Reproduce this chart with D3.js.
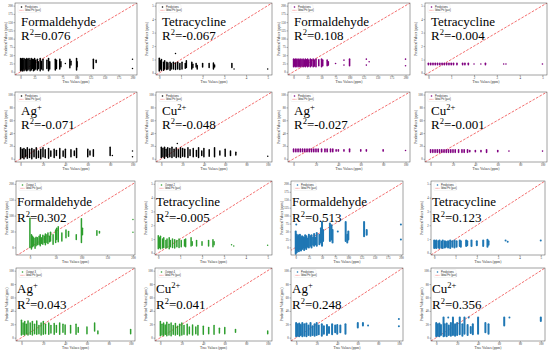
<!DOCTYPE html>
<html>
<head>
<meta charset="utf-8">
<script src="https://cdn.jsdelivr.net/npm/d3@7"></script>
<style>
  body { margin: 0; background: #fff; }
  svg { display: block; }
  .tick text { font-family: "Liberation Serif", serif; }
</style>
</head>
<body>
<div id="chart"></div>
<script>
// tick sets
const formTicks = [0, 25, 50, 75, 100, 125, 150, 175, 200];
const formTicks50 = [0, 50, 100, 150, 200];
const tetraTicks = [0, 1, 2, 3, 4, 5];
const ionTicks = [0, 20, 40, 60, 80, 100];

// analyte names, [base, superscript]
const analytes = [["Formaldehyde", ""], ["Tetracycline", ""], ["Ag", "+"], ["Cu", "2+"]];

// R² values per model group (order: formaldehyde, tetracycline, Ag+, Cu2+)
const r2Black = ["0.076", "-0.067", "-0.071", "-0.048"];
const r2Purple = ["0.108", "-0.004", "-0.027", "-0.001"];
const r2Green = ["0.302", "-0.005", "0.043", "0.041"];
const r2Blue = ["0.513", "0.123", "0.248", "0.356"];

const greenLegend = ["Output 1", "Output 2", "Output 3", "Output 4"];

// point columns: [true value, lowest prediction, highest prediction]
const formBlack = [[0,3,40],[1.5,5,38],[3,2,40],[4.5,8,35],[6,3,40],[8,5,38],[9.5,10,36],[11,3,40],[13,5,38],[15,8,40],[17,3,35],[19,5,40],[21,10,38],[23,3,36],[25,5,40],[27,8,35],[30,5,38],[32,10,30],[35,3,40],[37,8,32],[40,5,38],[47,10,35],[50,3,40],[52,8,30],[62,5,38],[64,10,35],[70,8,38],[72,15,30],[80,25,25],[88,12,38],[90,20,32],[100,5,40],[101,15,30],[130,10,38],[135,28,35],[200,10,10],[200,38,38]];
const tetraBlack = [[0,0.15,1.1],[0.05,0.3,0.9],[0.1,0.2,1.0],[0.2,0.2,0.8],[0.25,0.3,0.9],[0.35,0.25,0.8],[0.4,0.3,0.75],[0.5,0.2,0.8],[0.55,0.3,0.7],[0.65,0.3,0.8],[0.75,0.25,0.75],[0.75,1.45,1.45],[0.85,0.3,0.8],[0.95,0.25,0.7],[1.05,0.3,0.8],[1.2,0.35,0.7],[1.25,0.4,0.9],[1.5,0.3,0.8],[1.55,0.4,0.65],[1.7,0.45,0.7],[1.75,0.3,0.55],[2.0,0.45,0.7],[2.3,0.4,0.7],[2.5,0.3,0.75],[2.55,0.45,0.6],[3.35,0.4,0.7],[3.45,0.3,0.3],[5.0,0.3,0.3]];
const agBlack = [[0,0,17],[1.5,2,15],[3,0,16],[4.5,3,14],[6,1,17],[8,2,15],[10,0,16],[12,3,14],[14,1,17],[16,2,12],[18,0,15],[20,3,17],[22,2,14],[25,1,16],[27,4,12],[30,2,15],[32,5,13],[35,1,16],[38,4,12],[40,2,15],[45,3,14],[48,5,12],[50,2,16],[60,3,15],[62,6,12],[65,4,14],[80,5,18],[82,5,5],[100,3,3],[100,12,12]];
const cuBlack = [[0,2,18],[1.5,3,16],[3,1,18],[4.5,4,15],[6,2,17],[8,3,16],[10,2,18],[12,4,15],[14,2,17],[15,24,24],[16,3,14],[18,2,17],[20,4,16],[22,3,15],[25,2,17],[27,5,14],[30,3,16],[33,4,13],[35,2,17],[38,5,12],[40,3,16],[45,4,14],[50,3,17],[55,6,12],[60,4,15],[65,5,12],[70,6,10],[100,4,4]];
const formPurple = [[0,15,38],[1.5,18,36],[3,15,38],[4.5,17,35],[6,15,38],[8,18,36],[9.5,15,38],[11,17,35],[13,15,38],[15,18,36],[17,15,38],[19,17,35],[21,15,38],[23,18,36],[25,15,38],[27,17,35],[30,15,38],[32,18,36],[35,15,38],[37,17,35],[40,15,38],[45,18,36],[50,15,38],[52,18,35],[60,18,35],[62,20,30],[75,25,25],[90,20,20],[90,35,35],[100,18,38],[130,20,20],[130,38,38],[135,30,30],[200,18,18],[200,38,38]];
const tetraPurple = [[0,0.62,0.72],[0.1,0.62,0.72],[0.2,0.62,0.72],[0.3,0.62,0.72],[0.4,0.62,0.72],[0.5,0.62,0.72],[0.6,0.62,0.72],[0.7,0.62,0.72],[0.8,0.62,0.72],[0.9,0.62,0.72],[1.0,0.62,0.72],[1.1,0.62,0.72],[1.25,0.62,0.72],[1.5,0.62,0.72],[1.6,0.62,0.72],[1.75,0.62,0.72],[2.0,0.67,0.67],[2.3,0.67,0.67],[2.5,0.62,0.72],[3.3,0.67,0.67],[3.4,0.67,0.67],[5.0,0.67,0.67]];
const agPurple = [[0,11,15],[2,11,15],[4,11,15],[6,11,15],[8,11,15],[10,11,15],[12,11,15],[14,11,15],[16,11,15],[18,11,15],[20,11,15],[22,11,15],[25,11,15],[28,11,15],[30,11,15],[33,11,15],[35,11,15],[38,12,14],[40,12,14],[45,12,14],[50,11,15],[60,12,14],[65,12,14],[80,12,14],[100,13,13]];
const cuPurple = [[0,10,14],[2,10,14],[4,10,14],[6,10,14],[8,10,14],[10,10,14],[12,10,14],[14,10,14],[16,10,14],[18,10,14],[20,10,14],[22,10,14],[25,10,14],[28,10,14],[30,10,14],[33,10,14],[35,11,13],[40,11,13],[45,11,13],[50,10,14],[60,11,13],[70,12,12],[100,12,12]];
const formGreen = [[0,0,92],[3,-5,40],[5,2,35],[7,5,30],[10,-3,28],[12,5,32],[15,8,30],[18,10,35],[20,5,40],[22,12,30],[25,10,38],[28,15,35],[30,8,42],[33,15,40],[35,12,45],[38,18,35],[40,20,48],[45,10,40],[50,15,55],[52,25,60],[55,18,65],[62,20,45],[70,30,55],[75,35,50],[90,25,40],[100,15,90],[102,40,60],[130,38,52],[135,45,50],[200,48,48],[200,88,88]];
const tetraGreen = [[0,0.3,1.25],[0.05,0.4,1.1],[0.1,0.3,1.2],[0.2,0.35,1.0],[0.25,0.4,1.1],[0.35,0.35,0.9],[0.4,0.4,1.0],[0.5,0.3,1.1],[0.55,0.45,0.9],[0.65,0.4,1.0],[0.75,0.35,0.95],[0.85,0.45,0.9],[0.95,0.4,1.0],[1.05,0.45,0.9],[1.2,0.5,0.95],[1.25,0.45,1.0],[1.5,0.5,1.1],[1.55,0.55,0.8],[1.75,0.5,0.9],[2.0,0.55,0.8],[2.3,0.5,0.9],[2.5,0.45,0.95],[2.55,0.6,0.8],[3.35,0.6,0.6],[3.45,0.5,0.5],[5.0,0.55,0.55]];
const agGreen = [[0,4,26],[1.5,5,22],[3,4,24],[4.5,6,20],[6,4,25],[8,5,22],[10,4,24],[12,6,20],[14,5,25],[16,6,18],[18,4,22],[20,5,24],[22,6,20],[25,5,22],[27,7,18],[30,5,21],[32,8,18],[35,5,22],[38,8,20],[40,5,19],[45,7,18],[50,5,20],[52,8,15],[60,6,16],[67,10,22],[70,6,10],[100,6,12]];
const cuGreen = [[0,3,24],[1.5,4,20],[3,3,22],[4.5,5,19],[6,3,23],[8,4,20],[10,3,22],[12,5,18],[14,4,21],[16,5,17],[18,3,20],[20,4,22],[22,5,18],[25,4,20],[27,6,16],[30,4,19],[33,6,16],[35,4,18],[40,5,17],[45,6,15],[50,5,18],[55,7,14],[60,6,15],[70,8,12],[100,6,10]];
const formBlue = [[0,-20,50],[1,72,72],[2,-15,40],[4,-10,35],[6,-12,38],[8,-5,40],[10,-10,30],[12,-5,35],[14,0,32],[16,-8,30],[18,0,38],[20,-5,35],[22,2,28],[25,0,40],[28,5,35],[30,0,38],[33,8,30],[35,5,42],[38,10,30],[40,5,45],[45,10,40],[48,15,60],[50,5,80],[52,20,55],[65,20,75],[68,25,70],[70,15,55],[80,50,50],[95,20,80],[98,15,40],[100,25,50],[130,35,80],[135,40,55],[200,25,25],[200,72,72]];
const tetraBlue = [[0,0.35,0.9],[0.05,0.4,0.85],[0.1,0.35,0.9],[0.2,0.4,0.85],[0.25,0.35,0.9],[0.35,0.4,0.8],[0.4,0.35,0.9],[0.5,0.4,0.85],[0.55,0.45,0.8],[0.65,0.4,0.85],[0.75,0.35,0.9],[0.85,0.45,0.85],[0.95,0.4,0.9],[1.05,0.45,0.85],[1.2,0.5,0.9],[1.25,0.45,0.85],[1.5,0.5,0.9],[1.55,0.55,0.85],[1.75,0.5,0.9],[2.0,0.55,0.85],[2.3,0.5,0.9],[2.5,0.45,0.95],[2.55,0.6,0.85],[3.35,0.9,0.9],[3.45,0.8,0.8],[5.0,0.9,0.9]];
const agBlue = [[0,2,22],[1.5,3,20],[3,2,21],[4.5,4,19],[6,2,22],[8,3,20],[10,2,21],[12,4,18],[14,3,22],[16,4,17],[18,3,20],[20,4,22],[22,5,18],[25,3,20],[27,6,17],[30,4,19],[32,7,16],[35,5,20],[38,8,18],[40,6,19],[43,8,18],[48,6,20],[60,15,22],[65,18,22],[70,18,18],[100,17,17],[100,28,28]];
const cuBlue = [[0,2,22],[1.5,3,20],[3,2,21],[4.5,4,19],[7,2,30],[8,3,20],[10,2,21],[11.5,30,30],[12,4,18],[14,3,22],[16,4,30],[18,3,20],[20,4,22],[22.5,5,30],[25,3,20],[27,6,30],[30,4,19],[31,30,30],[33,7,16],[35,5,20],[40,6,30],[47,8,22],[50,6,20],[65,18,30],[70,30,30],[100,25,30]];

// frame rectangles per grid cell [left, top, right, bottom]
const colTop = [[15, 137], [156, 272], [288, 410], [425, 547]];
const colBot = [[16, 135], [155, 272], [291, 403], [431, 545]];
const rowY = [[3, 75], [92, 162], [181, 255], [268, 341]];

const W = 550, H = 356;
const svg = d3.select("#chart").append("svg").attr("width", W).attr("height", H);

const groups = [
  { rows: [0, 1], cols: [0, 1], color: "#000000", r2: r2Black, legend: () => "Predictions", size: 1.5,
    data: [formBlack, tetraBlack, agBlack, cuBlack] },
  { rows: [0, 1], cols: [2, 3], color: "#800080", r2: r2Purple, legend: () => "Predictions", size: 1.6,
    data: [formPurple, tetraPurple, agPurple, cuPurple] },
  { rows: [2, 3], cols: [0, 1], color: "#2e9e2e", r2: r2Green, legend: i => greenLegend[i], size: 1.5,
    data: [formGreen, tetraGreen, agGreen, cuGreen] },
  { rows: [2, 3], cols: [2, 3], color: "#1f77b4", r2: r2Blue, legend: () => "Predictions", size: 2.0,
    data: [formBlue, tetraBlue, agBlue, cuBlue] }
];

function domainsFor(gi, ai) {
  if (ai === 1) return { x: [-0.15, 5.2], y: [-0.15, 5.2], xt: tetraTicks, yt: tetraTicks };
  if (ai >= 2) return { x: [-5, 104], y: [-5, 104], xt: ionTicks, yt: ionTicks };
  if (gi === 2) return { x: [-27, 204], y: [-24, 209], xt: formTicks50, yt: formTicks50 };
  if (gi === 3) return { x: [-9, 204], y: [-24, 209], xt: formTicks, yt: formTicks };
  return { x: [-10, 208], y: [-10, 208], xt: formTicks, yt: formTicks };
}

let clipId = 0;
groups.forEach((grp, gi) => {
  grp.data.forEach((cols, ai) => {
    const row = grp.rows[Math.floor(ai / 2)];
    const col = grp.cols[ai % 2];
    const [x0, x1] = (row < 2 ? colTop : colBot)[col];
    const [y0, y1] = rowY[row];
    const dm = domainsFor(gi, ai);

    const x = d3.scaleLinear().domain(dm.x).range([x0, x1]);
    const y = d3.scaleLinear().domain(dm.y).range([y1, y0]);
    const g = svg.append("g");

    // axes
    const fmt = d3.format("d");
    g.append("g")
      .attr("transform", `translate(0,${y1})`)
      .call(d3.axisBottom(x).tickValues(dm.xt).tickFormat(fmt).tickSize(1.5).tickPadding(0.8))
      .call(a => a.select(".domain").remove())
      .call(a => a.selectAll("line").attr("stroke", "#444").attr("stroke-width", 0.4))
      .call(a => a.selectAll("text").attr("font-size", 3).attr("fill", "#333"));
    g.append("g")
      .attr("transform", `translate(${x0},0)`)
      .call(d3.axisLeft(y).tickValues(dm.yt).tickFormat(fmt).tickSize(1.5).tickPadding(0.8))
      .call(a => a.select(".domain").remove())
      .call(a => a.selectAll("line").attr("stroke", "#444").attr("stroke-width", 0.4))
      .call(a => a.selectAll("text").attr("font-size", 3).attr("fill", "#333"));

    g.append("text")
      .attr("x", (x0 + x1) / 2).attr("y", y1 + 8)
      .attr("text-anchor", "middle")
      .attr("font-family", "Liberation Serif, serif").attr("font-size", 3.6).attr("fill", "#333")
      .text("True Values (ppm)");
    g.append("text")
      .attr("transform", `translate(${x0 - 8},${(y0 + y1) / 2}) rotate(-90)`)
      .attr("text-anchor", "middle")
      .attr("font-family", "Liberation Serif, serif").attr("font-size", 3.6).attr("fill", "#333")
      .text("Predicted Values (ppm)");

    // clip
    const cid = "clip" + (clipId++);
    svg.append("clipPath").attr("id", cid)
      .append("rect").attr("x", x0).attr("y", y0).attr("width", x1 - x0).attr("height", y1 - y0);
    const plot = g.append("g").attr("clip-path", `url(#${cid})`);

    // ideal fit line
    const lo = Math.min(dm.x[0], dm.y[0]), hi = Math.max(dm.x[1], dm.y[1]);
    plot.append("line")
      .attr("x1", x(lo)).attr("y1", y(lo)).attr("x2", x(hi)).attr("y2", y(hi))
      .attr("stroke", "#f04a4a").attr("stroke-width", 0.8).attr("stroke-dasharray", "2.6,1.4");

    // point columns
    const s = grp.size;
    plot.selectAll("rect.pt")
      .data(cols)
      .join("rect")
      .attr("class", "pt")
      .attr("x", d => x(d[0]) - s / 2)
      .attr("y", d => y(d[2]) - s / 2)
      .attr("width", s)
      .attr("height", d => y(d[1]) - y(d[2]) + s)
      .attr("rx", s / 2)
      .attr("fill", grp.color);

    // frame
    g.append("rect")
      .attr("x", x0).attr("y", y0).attr("width", x1 - x0).attr("height", y1 - y0)
      .attr("fill", "none").attr("stroke", "#444").attr("stroke-width", 0.5);

    // legend
    const lg = g.append("g").attr("transform", `translate(${x0 + 3},${y0 + 1.5})`);
    lg.append("rect").attr("width", 22).attr("height", 8).attr("rx", 0.8)
      .attr("fill", "#fff").attr("fill-opacity", 0.8).attr("stroke", "#ddd").attr("stroke-width", 0.3);
    lg.append("circle").attr("cx", 3.5).attr("cy", 2.5).attr("r", 0.8).attr("fill", grp.color);
    lg.append("line").attr("x1", 1.5).attr("x2", 5.5).attr("y1", 5.8).attr("y2", 5.8)
      .attr("stroke", "#f04a4a").attr("stroke-width", 0.6).attr("stroke-dasharray", "1.2,0.6");
    lg.append("text").attr("x", 7).attr("y", 3.4).attr("font-size", 2.6)
      .attr("font-family", "Liberation Sans, sans-serif").attr("fill", "#222").text(grp.legend(ai));
    lg.append("text").attr("x", 7).attr("y", 6.7).attr("font-size", 2.6)
      .attr("font-family", "Liberation Sans, sans-serif").attr("fill", "#222").text("Ideal Fit (y=x)");

    // big labels
    const tx = row < 2 ? x0 + 6 : x0 + 1;
    const ty = row < 2 ? y0 + 22.5 : y0 + 25;
    const nm = g.append("text").attr("x", tx).attr("y", ty)
      .attr("font-family", "Liberation Serif, serif").attr("font-size", 13).attr("fill", "#000");
    nm.append("tspan").text(analytes[ai][0]);
    if (analytes[ai][1]) nm.append("tspan").attr("dy", -5).attr("font-size", 8.5).text(analytes[ai][1]);
    const rt = g.append("text").attr("x", tx).attr("y", ty + (row < 2 ? 14.5 : 15.5))
      .attr("font-family", "Liberation Serif, serif").attr("font-size", 13).attr("fill", "#000");
    rt.append("tspan").text("R");
    rt.append("tspan").attr("dy", -5).attr("font-size", 8.5).text("2");
    rt.append("tspan").attr("dy", 5).text("=" + grp.r2[ai]);
  });
});
</script>
</body>
</html>
